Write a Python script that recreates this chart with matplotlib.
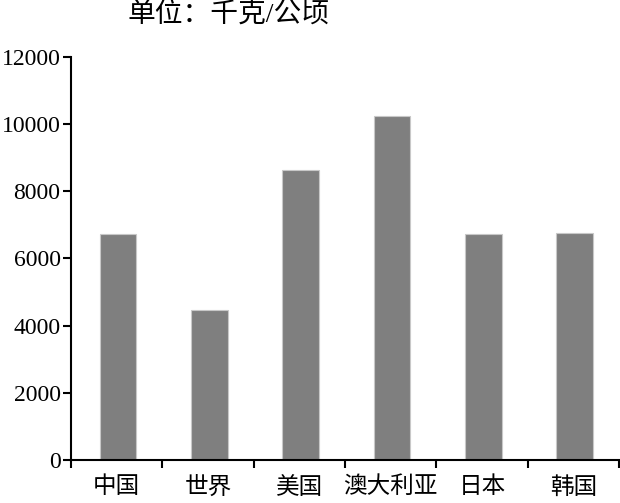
import numpy as np
import matplotlib
matplotlib.use('Agg')
from matplotlib import pyplot as plt

countries = ['中国', '世界', '美国', '澳大利亚', '日本', '韩国']
yields = [6720, 4460, 8630, 10230, 6720, 6760]
yticks = [0, 2000, 4000, 6000, 8000, 10000, 12000]

fonts = ['Liberation Serif', 'Noto Sans CJK SC', 'DejaVu Sans']
plt.rcParams['font.family'] = fonts

fig = plt.figure(figsize=(6.2, 5.03), dpi=100)
ax = fig.add_axes([0.1145, 0.0855, 0.884, 0.8012])

x = np.arange(len(countries))
ax.bar(x + 0.015, yields, width=0.4, color='#7f7f7f', edgecolor='#c8c8c8', linewidth=0.8)

ax.set_xlim(-0.5, len(countries) - 0.5)
ax.set_ylim(0, 12000)
ax.set_yticks(yticks)
ax.set_yticklabels([str(v) for v in yticks], fontsize=17)

# boundary ticks as major, labels at centres as minor
ax.set_xticks(np.arange(len(countries) + 1) - 0.5)
ax.set_xticklabels([])
ax.set_xticks(x, minor=True)
ax.set_xticklabels(countries, minor=True, fontsize=17)
ax.tick_params(axis='x', which='minor', length=0, pad=12)
ax.tick_params(axis='x', which='major', length=6, width=1.5)
ax.tick_params(axis='y', length=6, width=1.5, pad=1.5)

for s in ['top', 'right']:
    ax.spines[s].set_visible(False)
for s in ['left', 'bottom']:
    ax.spines[s].set_linewidth(1.5)

fig.text(0.368, 0.968, '单位：千克/公顷', fontsize=20, ha='center', va='center')

fig.savefig('out.png', dpi=100)
